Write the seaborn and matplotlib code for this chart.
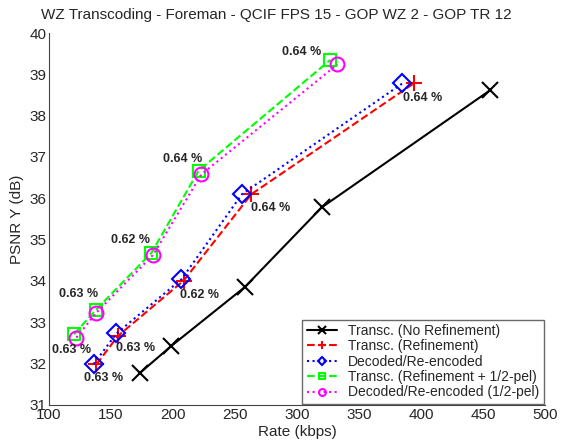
import numpy as np
import pandas as pd
import seaborn as sns
import matplotlib.pyplot as plt

# rate (kbps) / PSNR Y (dB)
rate_norefine = [173.1, 198.7, 257.8, 319.9, 456.0]
psnr_norefine = [31.77, 32.43, 33.85, 35.78, 38.62]

rate_refine = [138.2, 155.6, 208.6, 263.2, 394.1]
psnr_refine = [31.98, 32.67, 34.01, 36.10, 38.78]

rate_reenc = [136.0, 154.4, 206.8, 255.6, 385.0]
psnr_reenc = [31.99, 32.73, 34.04, 36.10, 38.78]

rate_half = [120.2, 137.7, 182.6, 220.7, 326.9]
psnr_half = [32.71, 33.30, 34.68, 36.67, 39.35]

rate_reenc_half = [122.1, 137.7, 183.9, 222.9, 332.6]
psnr_reenc_half = [32.63, 33.22, 34.63, 36.58, 39.24]

overhead_labels = ["0.63 %", "0.63 %", "0.62 %", "0.64 %", "0.64 %"]

names = ["Transc. (No Refinement)", "Transc. (Refinement)", "Decoded/Re-encoded",
         "Transc. (Refinement + 1/2-pel)", "Decoded/Re-encoded (1/2-pel)"]

sns.set_style("white")
plt.rcParams['font.family'] = ['Liberation Sans', 'DejaVu Sans']

fig = plt.figure(figsize=(5.61, 4.46), dpi=100)
ax = fig.add_axes([49 / 561, 1 - 405 / 446, 496 / 561, 372 / 446])

series = [
    (rate_norefine, psnr_norefine, "black", "-", "x", 11),
    (rate_refine, psnr_refine, "red", "--", "+", 12),
    (rate_reenc, psnr_reenc, "blue", ":", "D", 9),
    (rate_half, psnr_half, "#00ff00", "--", "s", 9),
    (rate_reenc_half, psnr_reenc_half, "magenta", ":", "o", 10),
]
for (xs, ys, c, ls, mk, ms), name in zip(series, names):
    df = pd.DataFrame({"rate": xs, "psnr": ys})
    sns.lineplot(data=df, x="rate", y="psnr", ax=ax, color=c, linestyle=ls,
                 linewidth=1.5, marker=mk, markersize=ms, markerfacecolor="none",
                 markeredgecolor=c, markeredgewidth=1.5, sort=False, label=name)

# overhead percentages, text offsets in pixels from the point
green_off = [(-22, -16), (-37, 16), (-40, 13), (-36, 12), (-48, 8)]
red_off = [(-12, -14), (-2, -12), (-4, -14), (0, -14), (-11, -15)]
for i, lab in enumerate(overhead_labels):
    ax.annotate(lab, (rate_half[i], psnr_half[i]), xytext=green_off[i],
                textcoords="offset pixels", fontsize=9, fontweight="bold",
                va="center", ha="left")
    ax.annotate(lab, (rate_refine[i], psnr_refine[i]), xytext=red_off[i],
                textcoords="offset pixels", fontsize=9, fontweight="bold",
                va="center", ha="left")

ax.set_xlim(100, 500)
ax.set_ylim(31, 40)
ax.set_xticks(np.arange(100, 501, 50))
ax.set_yticks(np.arange(31, 41, 1))
ax.tick_params(direction="in", length=4, labelsize=11, pad=2)
for s in ["top", "right"]:
    ax.spines[s].set_visible(False)
for s in ["left", "bottom"]:
    ax.spines[s].set_color("#444444")
ax.set_xlabel("Rate (kbps)", fontsize=11, labelpad=2)
ax.set_ylabel("PSNR Y (dB)", fontsize=11, labelpad=4)
fig.text(276 / 561, 1 - 15 / 446, "WZ Transcoding - Foreman - QCIF FPS 15 - GOP WZ 2 - GOP TR 12",
         ha="center", va="center", fontsize=11)

leg = ax.legend(loc="lower right", fontsize=10, markerscale=0.5, handlelength=2.2,
                frameon=True, fancybox=False, borderpad=0.3, labelspacing=0.1,
                borderaxespad=0.1)
leg.get_frame().set_edgecolor("#444444")
leg.get_frame().set_linewidth(1)

fig.savefig("out.png", dpi=100)
